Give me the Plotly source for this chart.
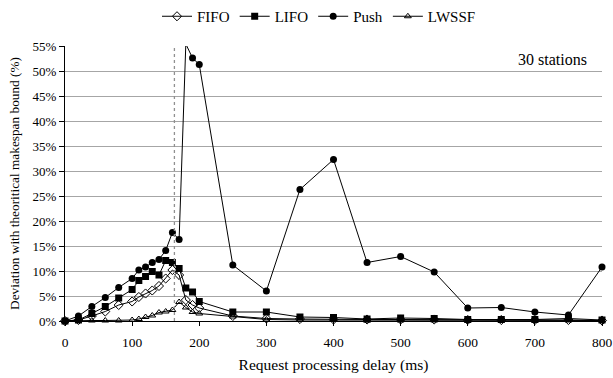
import plotly.graph_objects as go

delay_ms = [0, 20, 40, 60, 80, 100, 110, 120, 130, 140, 150, 160, 170, 180, 190, 200,
            250, 300, 350, 400, 450, 500, 550, 600, 650, 700, 750, 800]

fifo = [0, 0.2, 1.0, 1.9, 3.2, 3.9, 4.8, 5.5, 6.1, 7.0, 8.5, 10.2, 9.2, 4.2, 3.2, 2.6,
        1.0, 0.5, 0.4, 0.3, 0.3, 0.3, 0.3, 0.2, 0.2, 0.2, 0.2, 0.1]
lifo = [0, 0.2, 1.5, 2.9, 4.6, 6.3, 8.1, 8.9, 9.9, 9.2, 12.1, 11.7, 10.5, 6.6, 5.8, 3.9,
        1.8, 1.8, 0.8, 0.7, 0.4, 0.6, 0.5, 0.3, 0.3, 0.3, 0.5, 0.2]
push = [0, 1.0, 2.9, 4.7, 6.7, 8.5, 10.2, 10.8, 11.7, 12.3, 14.1, 17.7, 16.3, 55.4, 52.6, 51.3,
        11.2, 6.0, 26.3, 32.3, 11.7, 12.9, 9.8, 2.6, 2.7, 1.8, 1.2, 10.8]
lwssf = [0, 0.1, 0.1, 0.1, 0.1, 0.2, 0.4, 0.8, 1.1, 1.7, 1.9, 2.2, 3.8, 2.7, 1.8, 1.5,
         0.9, 0.3, 0.2, 0.2, 0.1, 0.1, 0.1, 0.1, 0.1, 0.1, 0.1, 0.1]

threshold_ms = 163
x_ticks = [0, 100, 200, 300, 400, 500, 600, 700, 800]
y_ticks = [0, 5, 10, 15, 20, 25, 30, 35, 40, 45, 50, 55]
y_tick_labels = [f"{v}%" for v in y_ticks]

FONT = "'Liberation Serif', 'Times New Roman', serif"

fig = go.Figure()

series = [
    ("FIFO", fifo, dict(symbol="diamond-open", size=7, color="black", line=dict(width=1, color="black"))),
    ("LIFO", lifo, dict(symbol="square", size=7, color="black")),
    ("Push", push, dict(symbol="circle", size=7, color="black")),
    ("LWSSF", lwssf, dict(symbol="triangle-up-open", size=6, color="black", line=dict(width=1, color="black"))),
]
for name, vals, mk in series:
    fig.add_trace(go.Scatter(
        x=delay_ms, y=vals, name=name, mode="lines+markers",
        line=dict(color="black", width=1), marker=mk, cliponaxis=False,
    ))

fig.add_shape(type="line", x0=threshold_ms, x1=threshold_ms, y0=0, y1=55,
              xref="x", yref="y", line=dict(color="#909090", width=1.3, dash="dot"))

fig.add_annotation(x=781, y=52.4, xref="x", yref="y", text="30 stations",
                   showarrow=False, xanchor="right", yanchor="middle",
                   font=dict(family=FONT, size=16, color="black"))

fig.update_layout(
    width=613, height=378,
    margin=dict(l=65, r=11, t=46, b=57),
    paper_bgcolor="white", plot_bgcolor="white",
    font=dict(family=FONT, size=13, color="black"),
    showlegend=True,
    legend=dict(orientation="h", x=0.473, xanchor="center", y=1.0, yanchor="top",
                yref="container", font=dict(family=FONT, size=15), itemwidth=30,
                tracegroupgap=0),
    xaxis=dict(range=[0, 800], tickvals=x_ticks, ticks="outside", ticklen=4,
               tickcolor="black", showgrid=False, zeroline=False, automargin=False,
               showline=True, linecolor="black", linewidth=1, ticklabelstandoff=5,
               tickfont=dict(family=FONT, size=13.5),
               title=dict(text="Request processing delay (ms)", standoff=9,
                          font=dict(family=FONT, size=15.5))),
    yaxis=dict(range=[0, 55], tickvals=y_ticks, ticktext=y_tick_labels, ticks="outside",
               ticklen=5, tickcolor="black", showgrid=True, gridcolor="#a6a6a6",
               gridwidth=1, zeroline=False, showline=True, linecolor="black",
               linewidth=1, tickfont=dict(family=FONT, size=13), automargin=False,
               title=dict(text="Deviation with theoritical makespan bound (%)", standoff=9,
                          font=dict(family=FONT, size=13.3))),
)

# remove the default 8px page margin so the figure fills the window exactly
fig.write_html("out.html", config={"displayModeBar": False},
               post_script="document.body.style.margin='0';")
